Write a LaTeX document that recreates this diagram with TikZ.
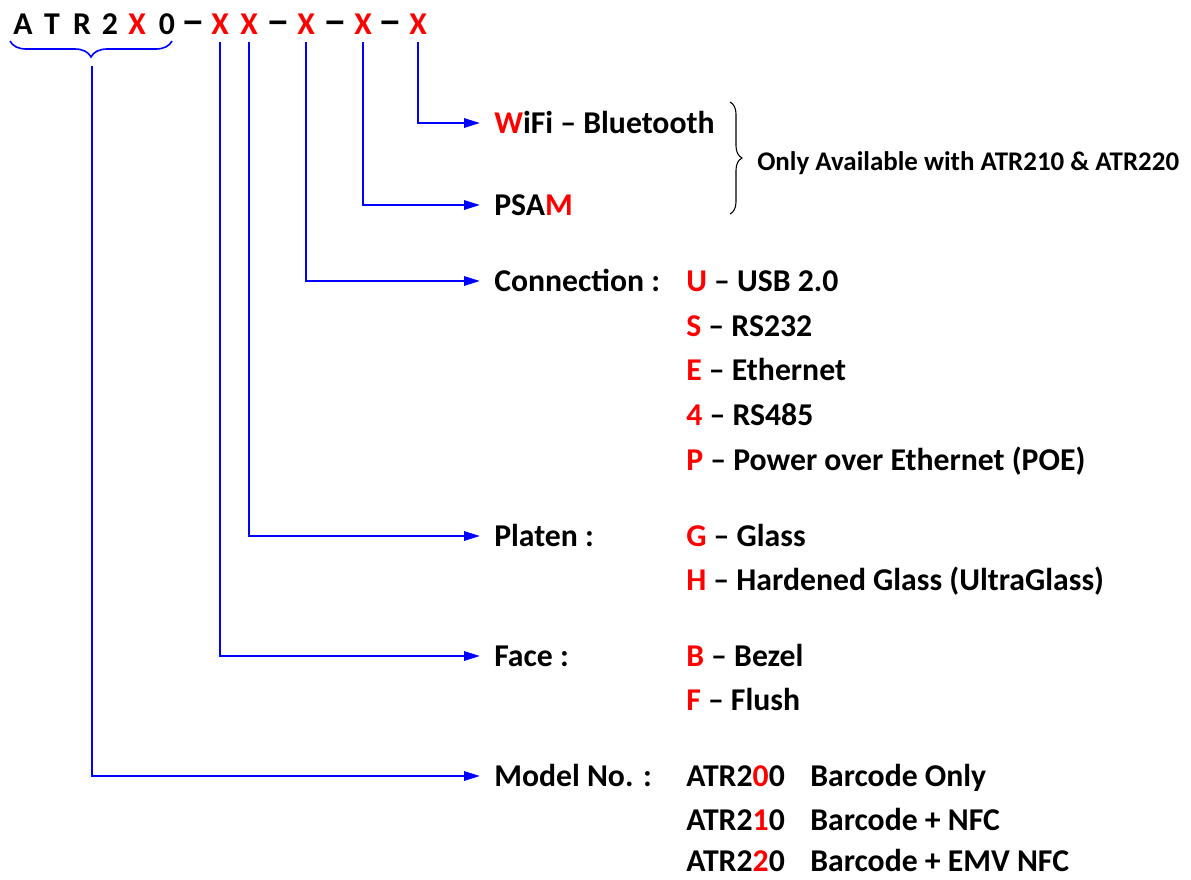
\documentclass[tikz,border=0pt]{standalone}
\usepackage{fontspec}
\setmainfont{Carlito}
\usetikzlibrary{arrows.meta,decorations.pathreplacing,positioning}
\definecolor{codered}{RGB}{255,0,0}
\definecolor{linkblue}{RGB}{0,0,255}
\newcommand{\rd}[1]{\textcolor{codered}{#1}}
\newcommand{\wdash}{\scalebox{1.5}[1.3]{–}}

\begin{document}
\begin{tikzpicture}[
        x=0.75pt, y=-0.75pt,
        font=\fontsize{23.8}{28}\selectfont\bfseries,
        hdr/.style={anchor=base, inner xsep=0pt, inner ysep=6pt},
        lbl/.style={anchor=west, inner xsep=10.5pt, inner ysep=0pt, text height=15.3pt, text depth=0pt},
        val/.style={anchor=west, inner sep=0pt, text height=15.3pt, text depth=0pt},
        note/.style={anchor=west, inner sep=0pt, font=\fontsize{20.2}{24}\selectfont\bfseries},
        arr/.style={-{Triangle[length=12pt,width=7pt]}, line width=1.6pt, draw=linkblue}
    ]
    \useasboundingbox (0,0) rectangle (1191,879);

    % part number
    \foreach \px/\ch/\nm in {23/A/ha, 52/T/ht, 82/R/hr, 110/2/htwo, 137/\rd{X}/hx, 167/0/hzero,
            193/\wdash/dsha, 220/\rd{X}/xface, 249/\rd{X}/xplaten, 278/\wdash/dshb, 306/\rd{X}/xconn,
            335/\wdash/dshc, 363/\rd{X}/xpsam, 390/\wdash/dshd, 418/\rd{X}/xwifi}
        \node[hdr] (\nm) at (\px,34) {\ch};

    % option groups
    \node[lbl] (wifi) at (480,123) {\rd{W}iFi – Bluetooth};
    \node[lbl] (psam) at (480,205) {PSA\rd{M}};
    \node[lbl] (conn) at (480,281) {Connection :};
    \node[lbl] (platen) at (480,536) {Platen :};
    \node[lbl] (face) at (480,656) {Face :};
    \node[lbl] (model) at (480,776) {Model No. :};

    % choices
    \node[val] (cusb) at (686,281) {\rd{U} – USB 2.0};
    \node[val] (crs2) at (686,326) {\rd{S} – RS232};
    \node[val] (ceth) at (686,370) {\rd{E} – Ethernet};
    \node[val] (crs4) at (686,415) {\rd{4} – RS485};
    \node[val] (cpoe) at (686,460) {\rd{P} – Power over Ethernet (POE)};
    \node[val] (pgl) at (686,536) {\rd{G} – Glass};
    \node[val] (phg) at (686,580) {\rd{H} – Hardened Glass (UltraGlass)};
    \node[val] (fbz) at (686,656) {\rd{B} – Bezel};
    \node[val] (ffl) at (686,700) {\rd{F} – Flush};
    \node[val] (mzero) at (686,776) {ATR2\rd{0}0};
    \node[val] (mone) at (686,820) {ATR2\rd{1}0};
    \node[val] (mtwo) at (686,861) {ATR2\rd{2}0};
    \node[val] (mzerod) at (810,776) {Barcode Only};
    \node[val] (moned) at (810,820) {Barcode + NFC};
    \node[val] (mtwod) at (810,861) {Barcode + EMV NFC};

    % side note
    \draw[decorate, decoration={brace, amplitude=9pt}, line width=0.8pt] (730,102) -- (730,214);
    \node[note] (avail) at (757,163) {Only Available with ATR210 \& ATR220};

    % model brace
    \draw[decorate, decoration={brace, mirror, amplitude=12pt}, draw=linkblue, line width=1.2pt] (10,41) -- (172,41);
    \coordinate (mtip) at (92,66);

    \draw[arr] (xwifi.south) |- (wifi.west);
    \draw[arr] (xpsam.south) |- (psam.west);
    \draw[arr] (xconn.south) |- (conn.west);
    \draw[arr] (xplaten.south) |- (platen.west);
    \draw[arr] (xface.south) |- (face.west);
    \draw[arr] (mtip) |- (model.west);
\end{tikzpicture}
\end{document}
